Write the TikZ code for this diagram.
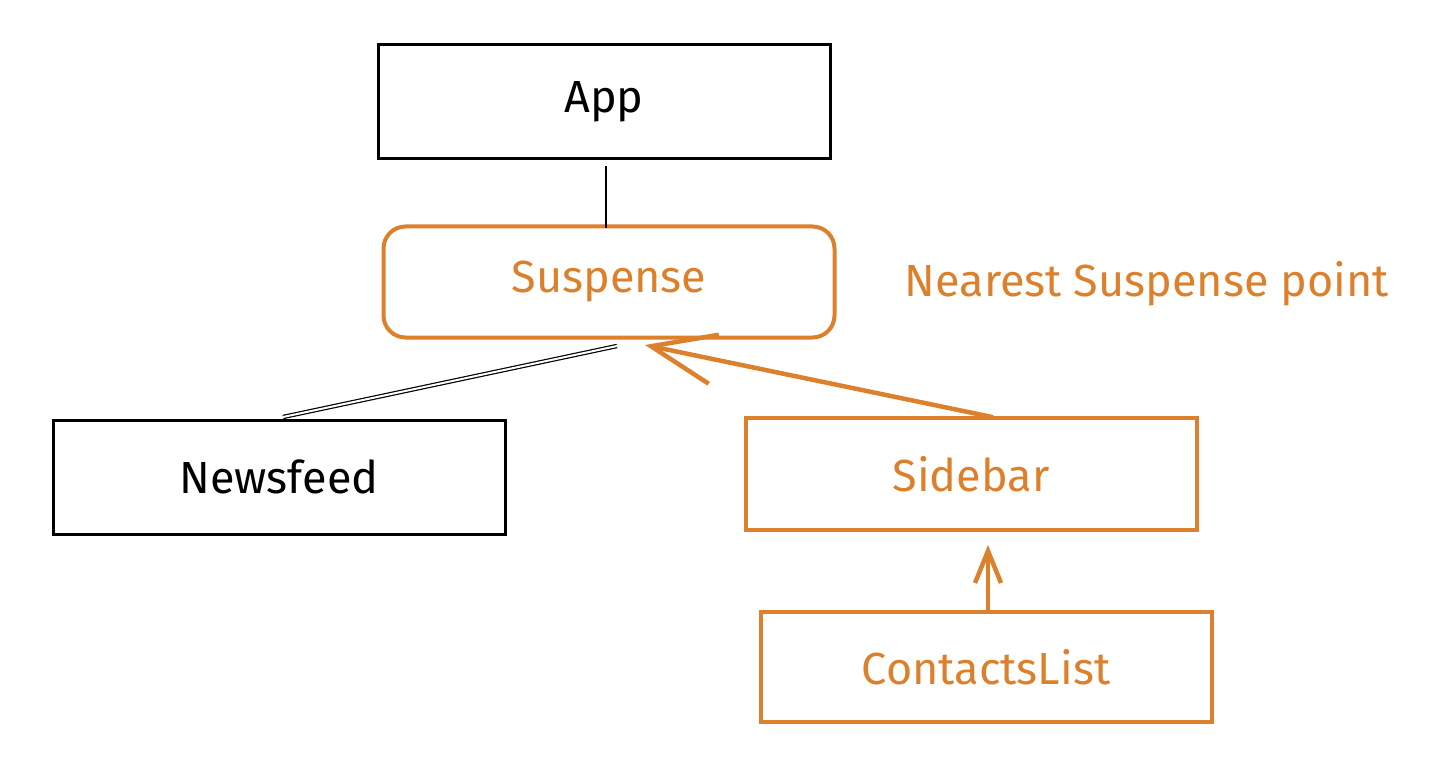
\documentclass[tikz,border=0pt]{standalone}
\usepackage{fontspec}
\setmainfont{Fira Sans}
\usetikzlibrary{arrows.meta}
\definecolor{sketchorange}{RGB}{221,128,44}
\tikzset{
  labelfont/.style={font=\fontsize{45}{52}\selectfont},
  blackbox/.style={draw=black, line width=3pt, minimum width=452pt, minimum height=114pt, inner sep=0pt, labelfont},
  orangebox/.style={draw=sketchorange, text=sketchorange, line width=4pt, minimum width=451pt, minimum height=112pt, inner sep=0pt, labelfont},
  link/.style={draw=black, line width=1.5pt},
  orangearrow/.style={draw=sketchorange, line width=4.5pt, line cap=round},
  note/.style={text=sketchorange, labelfont, inner sep=0pt}
}
\begin{document}
\begin{tikzpicture}[x=1pt,y=-1pt]
\useasboundingbox (0,0) rectangle (1452,770);
\node[blackbox] (app) at (604,102) {App};
\node[orangebox, rounded corners=22pt, minimum height=111pt] (susp) at (609,282) {Suspense};
\node[blackbox] (news) at (279,477) {Newsfeed};
\node[orangebox] (side) at (971,474) {Sidebar};
\node[orangebox, minimum height=110pt] (contacts) at (986,667) {ContactsList};
\node[note] (lbl) at (1147,284) {Nearest Suspense point};
\coordinate (appb) at (606,166);
\coordinate (suspt) at (606,228);
\coordinate (newst) at (283,417);
\coordinate (suspb) at (617,346);
\coordinate (sidet) at (992,417);
\coordinate (susptip) at (645,345);
\coordinate (contt) at (988,610);
\coordinate (sideb) at (988,545);
\draw[link] (appb) -- (suspt);
\draw[link, double distance=2pt, line width=1.2pt] (newst) -- (suspb);
\draw[orangearrow, -{Straight Barb[length=64pt,width=50pt,line width=4.5pt]}] (sidet) -- (susptip);
\draw[orangearrow, -{Straight Barb[length=32pt,width=26pt,line width=4.5pt]}] (contt) -- (sideb);
\end{tikzpicture}
\end{document}
